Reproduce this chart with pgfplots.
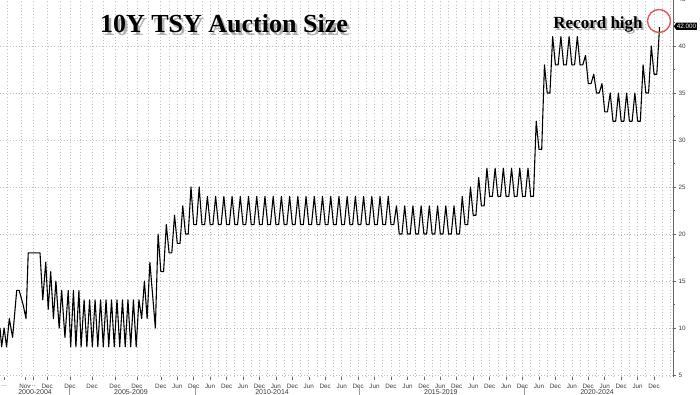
\documentclass[border=0pt]{standalone}
\usepackage{fontspec}
\setmainfont{Liberation Serif}
\setsansfont{Liberation Sans}
\usepackage{pgfplots}
\pgfplotsset{compat=1.18}
\usetikzlibrary{shapes.symbols}
\definecolor{gridc}{HTML}{BEBEBE}
\definecolor{tickc}{HTML}{3A3A3A}
\definecolor{ringc}{HTML}{E05A5A}
\pgfplotstableread{
x y
-0.7 10
-0.1 8
0.8 10
1.7 8
2.7 11
3.9 9
5.4 14
6.3 14
7.8 12.4
8.8 11
9.6 18
13.9 18
14.9 13
16 17
16.9 12
17.8 16
18.8 11
19.7 15
20.9 10
21.8 14
23 9
24.2 14
25.1 8
26.1 14
27 8
28.1 14
28.9 8
30 13
31 8
32 13
33 8
34 13
35 8
36 13
37 8
38 13
39 8
40 13
41 8
42 13
43 8
44 13
45 8
46 13
47 8
48 13
49 8
50 13
51 11
52 15
53 11
54 17
55 13.5
56 10
57 20
58 16
59 16
60 21
61 18
62 18
63 22
64 19
65 19
66 23
67 20
68 20
69 25
70 21
71 21
72 25
73 21
74 21
75 24
76 21
77 21
78 24
79 21
80 21
81 24
82 21
83 21
84 24
85 21
86 21
87 24
88 21
89 21
90 24
91 21
92 21
93 24
94 21
95 21
96 24
97 21
98 21
99 24
100 21
101 21
102 24
103 21
104 21
105 24
106 21
107 21
108 24
109 21
110 21
111 24
112 21
113 21
114 24
115 21
116 21
117 24
118 21
119 21
120 24
121 21
122 21
123 24
124 21
125 21
126 24
127 21
128 21
129 24
130 21
131 21
132 24
133 21
134 21
135 24
136 21
137 21
138 24
139 21
140 21
141 24
142 21
143 21
144 23
145 20
146 20
147 23
148 20
149 20
150 23
151 20
152 20
153 23
154 20
155 20
156 23
157 20
158 20
159 23
160 20
161 20
162 23
163 20
164 20
165 23
166 20
167 20
168 24
169 21
170 21
171 25
172 22
173 22
174 26
175 23
176 23
177 27
178 24
179 24
180 27
181 24
182 24
183 27
184 24
185 24
186 27
187 24
188 24
189 27
190 24
191 24
192 27
193 24
194 24
195 32
196 29
197 29
198 38
199 35
200 35
201 41
202 38
203 38
204 41
205 38
206 38
207 41
208 38
209 38
210 41
211 38
212 38
213 39
214 36
215 36
216 37
217 35
218 35
219 36
220 33
221 33
222 35
223 32
224 32
225 35
226 32
227 32
228 35
229 32
230 32
231 35
232 32
233 32
234 38
235 35
236 35
237 40
238 37
239 37
240 42
}\auction
\begin{document}
\begin{tikzpicture}
\useasboundingbox (0pt,0pt) rectangle (700pt,394pt);
\clip (0pt,0pt) rectangle (700pt,394pt);
\begin{axis}[
  at={(0pt,17.1pt)}, anchor=south west, scale only axis,
  width=673pt, height=379.76pt,
  xmin=-0.7, xmax=244.92, ymin=4.8, ymax=45.2,
  clip=false,
  axis x line*=bottom, axis y line*=right,
  x axis line style={draw=none},
  y axis line style={draw=black!60, line width=0.8pt},
  /pgf/number format/assume math mode=true,
  ytick={5,10,...,45}, minor y tick num=1,
  ymajorgrids=true,
  major grid style={gridc, dash pattern=on 1pt off 2.2pt, line width=0.7pt},
  minor grid style={gridc, dash pattern=on 1pt off 2.2pt, line width=0.7pt},
  tick align=outside,
  major tick length=3pt, minor tick length=2pt,
  every tick/.style={black!60, line width=0.6pt},
  yticklabel style={font=\sffamily\fontsize{6.3}{7}\selectfont, text=tickc, xshift=-1pt},
  xtick={0.8,8.4,11.3,16.5,24.8,32.9,41.3,49.3,58,64,70,76,82,88,94,100,106,112,118,124,130,136,142,148,154,160,166,172,178,184,190,196,202,208,214,220,226,232,238},
  xticklabels={\dots,Nov,\dots,Dec,Dec,Dec,Dec,Dec,Dec,Jun,Dec,Jun,Dec,Jun,Dec,Jun,Dec,Jun,Dec,Jun,Dec,Jun,Dec,Jun,Dec,Jun,Dec,Jun,Dec,Jun,Dec,Jun,Dec,Jun,Dec,Jun,Dec,Jun,Dec},
  xticklabel style={font=\sffamily\fontsize{6.3}{7}\selectfont, text=tickc, anchor=center, yshift=-6.5pt},
  minor xtick={1.9,7,11.3,16.5,21.2,24.8,28.5,32.9,36.9,41.3,45.6,49.3,53.3,58,61,64,67,70,73,76,79,82,85,88,91,94,97,100,103,106,109,112,115,118,121,124,127,130,133,136,139,142,145,148,151,154,157,160,163,166,169,172,175,178,181,184,187,190,193,196,199,202,205,208,211,214,217,220,223,226,229,232,235,238,241,244},
  xminorgrids=true,
  minor x tick style={draw=none},
]
\addplot[black, line width=1.1pt, line join=round] table[x=x, y=y] {\auction};
\node[font=\sffamily\fontsize{7}{8}\selectfont, text=tickc] at ([yshift=-15pt]axis cs:12.1,4.8) {2000-2004};
\node[font=\sffamily\fontsize{7}{8}\selectfont, text=tickc] at ([yshift=-15pt]axis cs:47.1,4.8) {2005-2009};
\node[font=\sffamily\fontsize{7}{8}\selectfont, text=tickc] at ([yshift=-15pt]axis cs:98.6,4.8) {2010-2014};
\node[font=\sffamily\fontsize{7}{8}\selectfont, text=tickc] at ([yshift=-15pt]axis cs:160.2,4.8) {2015-2019};
\node[font=\sffamily\fontsize{7}{8}\selectfont, text=tickc] at ([yshift=-15pt]axis cs:217.2,4.8) {2020-2024};
\draw[black!40, line width=0.5pt] ([yshift=-10pt]axis cs:24.6,4.8) -- ([yshift=-22pt]axis cs:24.6,4.8);
\draw[black!40, line width=0.5pt] ([yshift=-10pt]axis cs:70.5,4.8) -- ([yshift=-22pt]axis cs:70.5,4.8);
\draw[black!40, line width=0.5pt] ([yshift=-10pt]axis cs:130.5,4.8) -- ([yshift=-22pt]axis cs:130.5,4.8);
\draw[black!40, line width=0.5pt] ([yshift=-10pt]axis cs:190.5,4.8) -- ([yshift=-22pt]axis cs:190.5,4.8);
\node[signal, signal to=west, signal pointer angle=110, fill=black, text=white, font=\sffamily\fontsize{6.3}{7}\selectfont, inner xsep=0.6pt, inner ysep=1.3pt, anchor=west] at ([xshift=0.6pt]axis cs:244.92,42.1) {42.000};
\end{axis}
% title with soft shadow
\node[anchor=base, font=\bfseries\fontsize{26}{30}\selectfont, text=black, opacity=0.3] at (226.5pt,358.5pt) {10Y TSY Auction Size};
\node[anchor=base, font=\bfseries\fontsize{26}{30}\selectfont, text=black] at (224pt,361pt) {10Y TSY Auction Size};
\node[anchor=base, font=\bfseries\fontsize{17}{20}\selectfont, text=black, opacity=0.3] at (600pt,363pt) {Record high};
\node[anchor=base, font=\bfseries\fontsize{17}{20}\selectfont, text=black] at (598pt,365pt) {Record high};
\draw[ringc, line width=1.4pt] (659pt,373pt) circle (11.5pt);
\end{tikzpicture}
\end{document}
